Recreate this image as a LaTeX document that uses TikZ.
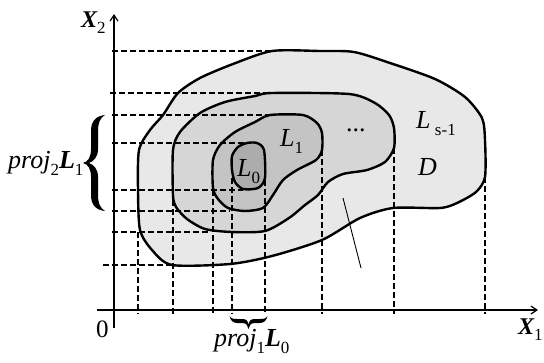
\documentclass[tikz,border=0pt]{standalone}
\usepackage{fontspec}
\setmainfont{Liberation Serif}
\usetikzlibrary{arrows.meta}
\newcommand\sbs[1]{\raisebox{-0.28em}{\fontsize{17}{17}\selectfont\upshape\mdseries #1}}
\definecolor{cD}{HTML}{E8E8E8}
\definecolor{cLb}{HTML}{D6D6D6}
\definecolor{cLa}{HTML}{C4C4C4}
\definecolor{cLz}{HTML}{ACACAC}
\begin{document}
\begin{tikzpicture}[x=1pt,y=-1pt,
  contour/.style={draw=black,line width=2.4pt,line join=round},
  guide/.style={line width=1.1pt,dash pattern=on 6pt off 3pt},
  axis/.style={line width=1.2pt,-{Straight Barb[length=6pt,width=8pt]}},
  lab/.style={inner sep=0pt,anchor=base west,font=\fontsize{26}{30}\selectfont\itshape},
  bracefill/.style={fill=black},
  pointer/.style={line width=0.9pt}]
\useasboundingbox (0,0) rectangle (544,362);
% regions
\filldraw[contour,fill=cD] plot[smooth cycle,tension=0.45] coordinates {
 (272,51) (320,51) (354,52) (390,63) (435,79) (465,97) (482,118) (485,140)
 (485,177) (476,192) (457,203) (440,208) (393,208) (360,218) (322,240)
 (272,256) (230,264) (172,265) (152,250) (140,230) (138,190) (139,150)
 (150,130) (163,115) (178,93) (200,78) (233,64)};
\filldraw[contour,fill=cLb] plot[smooth cycle,tension=0.45] coordinates {
 (272,93) (349,94) (375,103) (389,115) (394,128) (394,148) (385,162)
 (367,170) (343,174) (328,182) (318,195) (305,205) (289,218) (265,231)
 (232,232) (205,229) (187,219) (176,207) (173,195) (173,150) (180,132)
 (200,113) (225,102) (255,96)};
\filldraw[contour,fill=cLa] plot[smooth cycle,tension=0.45] coordinates {
 (270,115) (303,115) (317,123) (322,133) (322,150) (316,160) (297,170)
 (283,180) (273,195) (263,208) (245,211) (228,208) (218,199) (213,188)
 (213,160) (220,145) (235,132) (255,122)};
\filldraw[contour,fill=cLz] plot[smooth cycle,tension=0.45] coordinates {
 (247,143) (257,143) (264,150) (265,178) (258,188) (243,189) (235,182)
 (232,170) (232,156) (238,147)};
% guides
\foreach \y/\xa/\xb in {51/112/272, 93/110/272, 115/112/270, 143/112/247,
  190/112/243, 211/112/230, 232/112/210, 265/103/172}
  \draw[guide] (\xa,\y) -- (\xb,\y);
\foreach \x/\ya in {138/232, 173/200, 213/190, 232/178, 265/180, 322/150, 394/148, 485/177}
  \draw[guide] (\x,\ya) -- (\x,314);
% axes
\coordinate (yb) at (114,328); \coordinate (yt) at (114,14);
\coordinate (xl) at (97,310); \coordinate (xr) at (538,310);
\draw[axis] (yb) -- (yt);
\draw[axis] (xl) -- (xr);
% pointer
\coordinate (pa) at (343,198); \coordinate (pb) at (361,268);
\draw[pointer] (pa) -- (pb);
% left brace (proj_2 L_1), tip at (83,163)
\begin{scope}[shift={(83,163)}]
\fill[bracefill] (22,-48) .. controls (13,-47) and (8,-42) .. (8,-32) -- (8,-14)
  .. controls (8,-6) and (5,-1) .. (0,0)
  .. controls (5,1) and (8,6) .. (8,14) -- (8,32)
  .. controls (8,42) and (13,47) .. (22,48)
  .. controls (17,45) and (15,40) .. (15,32) -- (15,14)
  .. controls (15,6) and (11,2) .. (6,0)
  .. controls (11,-2) and (15,-6) .. (15,-14) -- (15,-32)
  .. controls (15,-40) and (17,-45) .. (22,-48) -- cycle;
\end{scope}
% bottom brace (proj_1 L_0), tip at (248,329)
\begin{scope}[shift={(248.5,329)}]
\fill[bracefill] (-19,-13) .. controls (-18,-8) and (-15,-6) .. (-11,-6) -- (-6,-6)
  .. controls (-2,-6) and (-0.5,-3) .. (0,0)
  .. controls (0.5,-3) and (2,-6) .. (6,-6) -- (11,-6)
  .. controls (15,-6) and (18,-8) .. (19,-13)
  .. controls (17,-10) and (15,-10) .. (11,-10) -- (6,-10)
  .. controls (2,-10) and (0.5,-8) .. (0,-4)
  .. controls (-0.5,-8) and (-2,-10) .. (-6,-10) -- (-11,-10)
  .. controls (-15,-10) and (-17,-10) .. (-19,-13) -- cycle;
\end{scope}
% labels
\node[lab,font=\fontsize{24}{28}\selectfont\itshape] (x2) at (81,27) {\bfseries X\sbs{2}};
\node[lab,font=\fontsize{24}{28}\selectfont\itshape] (x1) at (518,334) {\bfseries X\sbs{1}};
\node[lab,font=\fontsize{25}{30}\selectfont] (o) at (96,337) {0};
\node[lab] (p2) at (8,168) {proj\sbs{2}\textbf{L}\sbs{1}};
\node[lab] (p1) at (214,346) {proj\sbs{1}\textbf{L}\sbs{0}};
\node[lab] (l0) at (237,176) {L\sbs{0}};
\node[lab] (l1) at (280,146) {L\sbs{1}};
\node[lab,font=\fontsize{26}{30}\selectfont] (dots) at (346,131) {...};
\node[lab] (ls) at (416,128) {L\,\sbs{s-1}};
\node[lab] (d) at (418,175) {D};
\end{tikzpicture}
\end{document}
